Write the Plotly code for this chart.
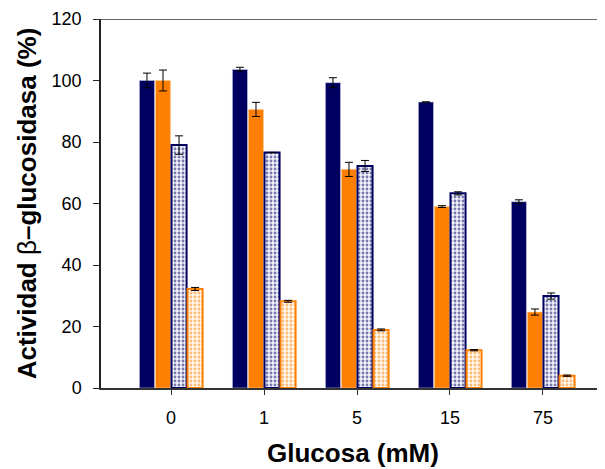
import plotly.graph_objects as go

categories = ["0", "1", "5", "15", "75"]

s1_vals = [100.0, 103.6, 99.3, 93.0, 60.6]
s1_err = [2.4, 0.7, 1.6, None, 0.6]

s2_vals = [100.0, 90.6, 71.1, 59.0, 24.7]
s2_err = [3.4, 2.3, 2.3, 0.3, 1.0]

s3_vals = [79.0, 76.6, 72.2, 63.3, 29.9]
s3_err = [3.0, None, 1.8, 0.5, 1.0]

s4_vals = [32.2, 28.2, 18.9, 12.3, 4.0]
s4_err = [0.5, 0.3, 0.3, 0.2, 0.2]

y_ticks = [0, 20, 40, 60, 80, 100, 120]

NAVY = "#000060"
ORANGE = "#FF8000"

def err(vals):
    return dict(type="data", array=vals, visible=True, color="black",
                thickness=1, width=4)

fig = go.Figure()
fig.add_trace(go.Bar(x=categories, y=s1_vals, error_y=err(s1_err),
                     marker=dict(color=NAVY, line=dict(color="#c8c8e0", width=0.6))))
fig.add_trace(go.Bar(x=categories, y=s2_vals, error_y=err(s2_err),
                     marker=dict(color=ORANGE, line=dict(color="#ffd0a0", width=0.6))))
fig.add_trace(go.Bar(x=categories, y=s3_vals, error_y=err(s3_err),
                     marker=dict(color="white", line=dict(color=NAVY, width=2),
                                 pattern=dict(shape=".", fgcolor=NAVY, bgcolor="#f2f3fb",
                                              size=4, solidity=0.4, fillmode="overlay"))))
fig.add_trace(go.Bar(x=categories, y=s4_vals, error_y=err(s4_err),
                     marker=dict(color="white", line=dict(color=ORANGE, width=2),
                                 pattern=dict(shape=".", fgcolor=ORANGE, bgcolor="#fff6ee",
                                              size=4, solidity=0.4, fillmode="overlay"))))

fig.update_layout(
    width=597, height=461,
    margin=dict(l=93, r=0, t=11, b=81),
    paper_bgcolor="white", plot_bgcolor="white",
    barmode="group", bargap=0.31, bargroupgap=0.06,
    showlegend=False,
    font=dict(family="Liberation Sans, Arial, sans-serif", color="black"),
)
fig.update_xaxes(
    type="category", range=[-0.753, 4.667],
    showline=True, linecolor="#333333", linewidth=1.5,
    ticks="outside", ticklen=5, tickcolor="#333333", tickwidth=1,
    tickfont=dict(size=18), ticklabelstandoff=8,
    title=dict(text="<b>Glucosa (mM)</b>", font=dict(size=26), standoff=16),
    showgrid=False, zeroline=False, mirror=False,
)
fig.update_yaxes(
    range=[0, 120], tickvals=y_ticks,
    showline=True, linecolor="#222222", linewidth=1.5,
    ticks="outside", ticklen=6, tickcolor="#222222", tickwidth=1,
    tickfont=dict(size=18), ticklabelstandoff=8,
    title=dict(text="<b>Actividad </b>β<b>–glucosidasa (%)</b>", font=dict(size=26), standoff=8),
    showgrid=False, zeroline=False,
)
# top border line at 120
fig.add_shape(type="line", xref="paper", yref="y", x0=-0.012, x1=1, y0=120, y1=120,
              line=dict(color="#333333", width=1.5))

fig.write_html("out.html")
